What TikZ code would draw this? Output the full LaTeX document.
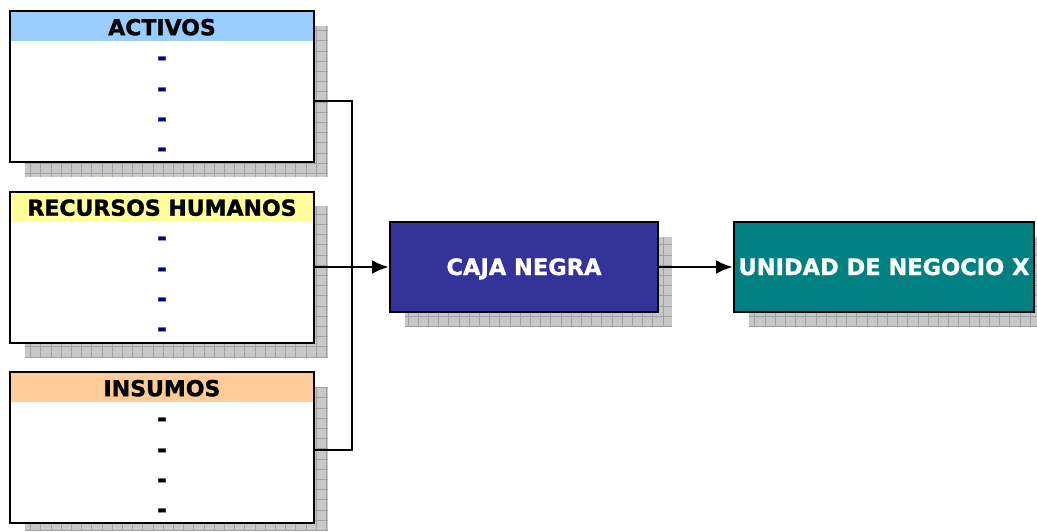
\documentclass[tikz,border=0pt]{standalone}
\usepackage{fontspec}
\setmainfont{DejaVu Sans}[BoldFeatures={FakeBold=1.3}]
\usetikzlibrary{calc,positioning,arrows.meta}

\definecolor{hdrblue}{HTML}{99CCFF}
\definecolor{hdryellow}{HTML}{FFFF99}
\definecolor{hdrorange}{HTML}{FFCC99}
\definecolor{cajafill}{HTML}{333399}
\definecolor{unidadfill}{HTML}{008080}
\definecolor{dashblue}{HTML}{000080}
\definecolor{shadowgray}{HTML}{C8C8C8}
\definecolor{shadowline}{HTML}{A0A0A0}

\tikzset{
  listbox/.style={draw,line width=2pt,fill=white,minimum width=304pt,minimum height=151pt,inner sep=0pt},
  hdrbox/.style={fill=#1,minimum width=302pt,minimum height=31pt,inner sep=0pt,
    text height=19pt,text depth=0pt,
    font=\fontsize{22}{24}\selectfont\bfseries,anchor=north},
  dashtxt/.style={font=\fontsize{24}{24}\selectfont\bfseries,text=#1},
  procbox/.style={draw,line width=2pt,fill=#1,minimum height=90pt,inner sep=0pt,
    text height=16pt,text depth=0pt,
    text=white,font=\fontsize{22.5}{24}\selectfont\bfseries},
  conn/.style={line width=2.8pt},
  shadowfill/.style={fill=shadowgray},
  shadowgrid/.style={shadowline,line width=0.7pt,step=10.2pt}
}

\begin{document}
\begin{tikzpicture}[x=1pt,y=-1pt]
  \useasboundingbox (0,0) rectangle (1037,531);

  % shadows
  \foreach \xa/\ya/\xb/\yb in {25/26/328/177, 25/206/328/357, 25/387/328/531,
                               405/237/672/327, 749/237/1037/327} {
    \fill[shadowfill] (\xa,\ya) rectangle (\xb,\yb);
    \begin{scope}
      \clip (\xa,\ya) rectangle (\xb,\yb);
      \draw[shadowgrid] (\xa,\ya) grid (\xb,\yb);
    \end{scope}
  }

  % input boxes
  \node[listbox] (act) at (162,86.5) {};
  \node[hdrbox=hdrblue] (acth) at (act.north) {ACTIVOS};
  \node[listbox,fill=none] at (act) {};

  \node[listbox] (rh) at (162,267) {};
  \node[hdrbox=hdryellow] (rhh) at (rh.north) {RECURSOS HUMANOS};
  \node[listbox,fill=none] at (rh) {};

  \node[listbox] (ins) at (162,447.5) {};
  \node[hdrbox=hdrorange] (insh) at (ins.north) {INSUMOS};
  \node[listbox,fill=none] at (ins) {};

  \foreach \dy in {61,92,122,152} {
    \node[dashtxt=dashblue] at (162,\dy) {-};
    \node[dashtxt=dashblue] at (162,\dy+180) {-};
    \node[dashtxt=black] at (162,\dy+361) {-};
  }

  % process boxes
  \node[procbox=cajafill,minimum width=268pt] (caja) at (524,267) {CAJA NEGRA};
  \node[procbox=unidadfill,minimum width=300pt] (unidad) at (884,267) {UNIDAD DE NEGOCIO X};

  % connectors
  \coordinate (in1) at (314,101);
  \coordinate (in3) at (314,450);
  \coordinate (bust) at (352,101);
  \coordinate (busb) at (352,450);
  \draw[conn] (in1) -- (bust) -- (busb) -- (in3);
  \draw[conn,-{Latex[length=17pt,width=14pt]}] (rh.east) -- (caja.west);
  \draw[conn,-{Latex[length=17pt,width=14pt]}] (caja.east) -- (unidad.west);
\end{tikzpicture}
\end{document}
